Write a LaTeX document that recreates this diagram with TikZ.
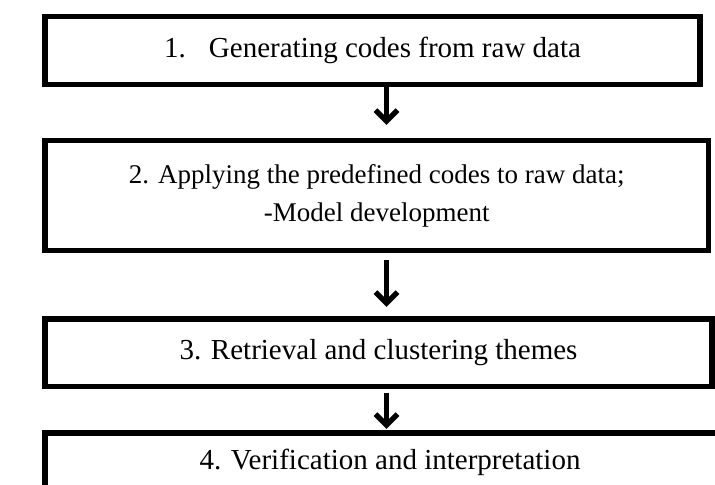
\documentclass[tikz,border=0pt]{standalone}
\usepackage{fontspec}
\setmainfont{Liberation Serif}
\usetikzlibrary{arrows.meta}

\begin{document}
\begin{tikzpicture}[x=0.5pt,y=-0.5pt,
    >={Straight Barb[length=5.5pt,width=11pt]},
    stagebox/.style={draw, line width=2.7pt, inner sep=0pt, align=center,
      font=\fontsize{14.5}{18.5}\selectfont},
    flowarrow/.style={->, line width=2.6pt}]
    \useasboundingbox (0,0) rectangle (715,485);
    % the four stages
    \node[stagebox, minimum width=327.5pt, minimum height=34pt] (gen) at (372.5,50.5)
      {1.\hspace{0.8em}Generating codes from raw data};
    \node[stagebox, minimum width=331.75pt, minimum height=55pt,
      font=\fontsize{13.5}{19}\selectfont] (apply) at (376.75,195.5)
      {2. Applying the predefined codes to raw data;\\-Model development};
    \node[stagebox, minimum width=333.5pt, minimum height=33.75pt] (themes) at (378.5,352.75)
      {3. Retrieval and clustering themes};
    \node[stagebox, minimum width=345pt, minimum height=29pt] (verify) at (390,462)
      {4. Verification and interpretation};
    % arrows between them
    \coordinate (ax) at (386.5,0);
    \draw[flowarrow, shorten >=6.5pt] (gen.south -| ax) -- (apply.north -| ax);
    \draw[flowarrow, shorten <=3.5pt, shorten >=4.75pt] (apply.south -| ax) -- (themes.north -| ax);
    \draw[flowarrow, shorten <=2pt, shorten >=0.75pt] (themes.south -| ax) -- (verify.north -| ax);
  \end{tikzpicture}
\end{document}
